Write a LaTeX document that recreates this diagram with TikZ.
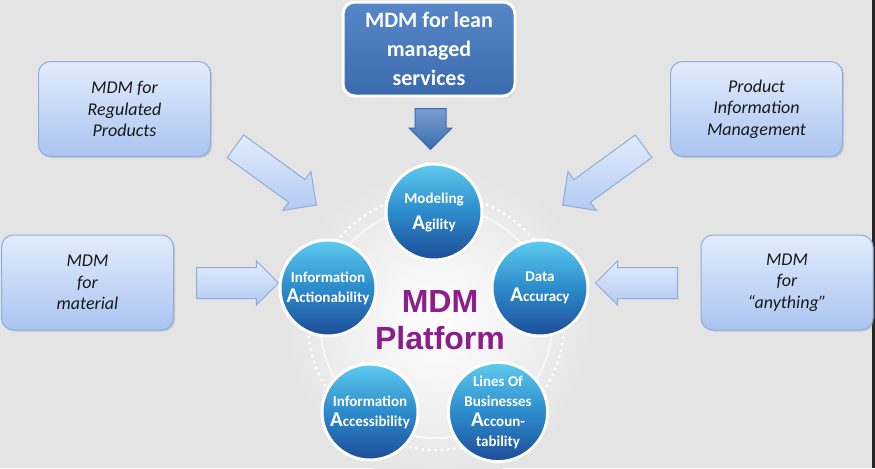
\documentclass[tikz,border=0pt]{standalone}
\usepackage{fontspec}
\setmainfont{Carlito}
\newfontfamily\platformfont{Liberation Sans}
\usetikzlibrary{shapes.arrows,shadows}
\definecolor{bgGray}{HTML}{E4E4E4}
\definecolor{boxTop}{HTML}{E3ECFD}
\definecolor{boxBot}{HTML}{AAC4F1}
\definecolor{boxLine}{HTML}{8EACDB}
\definecolor{leanTop}{HTML}{5787C7}
\definecolor{leanBot}{HTML}{3B6BAE}
\definecolor{ballTop}{HTML}{5ECBF0}
\definecolor{ballMid}{HTML}{2C8BCB}
\definecolor{ballBot}{HTML}{1E4C98}
\definecolor{mdmPurple}{HTML}{8C1D8C}

\begin{document}
\begin{tikzpicture}[
  x=0.5pt, y=-0.5pt,
  srcbox/.style={rectangle, rounded corners=6pt, draw=boxLine, line width=0.5pt,
    top color=boxTop, bottom color=boxBot, minimum width=86pt, minimum height=47.5pt,
    align=center, font=\fontsize{9}{10.75}\selectfont\itshape, text=black!90,
    drop shadow={opacity=0.25, shadow xshift=0.8pt, shadow yshift=-0.8pt}},
  leanbox/.style={rectangle, rounded corners=6pt, draw=white, line width=1.5pt,
    top color=leanTop, bottom color=leanBot, minimum width=86pt, minimum height=47pt,
    align=center, font=\fontsize{11}{14.5}\selectfont\bfseries, text=white,
    drop shadow={opacity=0.3, shadow xshift=0.8pt, shadow yshift=-0.8pt}},
  ball/.style={circle, draw=white, line width=1.5pt, minimum size=48pt, inner sep=0pt,
    top color=ballTop, bottom color=ballBot, middle color=ballMid,
    align=center, font=\fontsize{7.5}{10}\selectfont\bfseries, text=white,
    drop shadow={opacity=0.25, shadow xshift=0.6pt, shadow yshift=-0.6pt}},
  blockarr/.style={single arrow, anchor=tail, draw=boxLine, line width=0.5pt, inner sep=0pt,
    top color=boxTop, bottom color=boxBot!90!white}
]
\useasboundingbox (0,0) rectangle (875,468);
% background
\fill[bgGray] (0,0) rectangle (875,468);
\begin{scope}
  \clip (0,0) rectangle (875,468);
  \shade[inner color=white, outer color=bgGray] (438,322) circle[radius=80pt];
\end{scope}
\fill[black!85] (872,0) rectangle (875,468);
\draw[white, line width=1pt, opacity=0.6] (436,322) circle[radius=58pt];
\draw[white, line width=1.2pt, dotted] (436,322) circle[radius=64pt];

% source boxes
\node[leanbox] (lean)  at (429,49)    {MDM for lean\\managed\\services};
\node[srcbox]  (reg)   at (124.5,109) {MDM for\\Regulated\\Products};
\node[srcbox]  (pim)   at (756.5,109) {Product\\Information\\Management};
\node[srcbox]  (mat)   at (87.5,282.5) {MDM\\for\\material};
\node[srcbox]  (any)   at (787,282.5) {MDM\\for\\``anything''};

% block arrows (placed by their tails)
\node[blockarr, minimum height=20.5pt, minimum width=21pt, inner ysep=7.5pt,
  single arrow head extend=3pt, draw=leanBot, top color=leanTop!80!white, bottom color=leanBot,
  rotate=-90] (leanArr) at (430.5,108) {};
\node[blockarr, minimum height=50pt, minimum width=23pt, inner ysep=6.75pt,
  single arrow head extend=5pt, rotate=-36] (regArr) at (235,146) {};
\node[blockarr, minimum height=50pt, minimum width=23pt, inner ysep=6.75pt,
  single arrow head extend=5pt, rotate=216] (pimArr) at (644,146) {};
\node[blockarr, minimum height=41pt, minimum width=21.5pt, inner ysep=7.5pt,
  single arrow head extend=3.25pt] (matArr) at (196,283) {};
\node[blockarr, minimum height=41pt, minimum width=21.5pt, inner ysep=7.5pt,
  single arrow head extend=3.25pt, rotate=180] (anyArr) at (678,283) {};

% platform pillars
\node[ball] (agil) at (434,212) {Modeling\\[3pt]{\fontsize{10.5}{10}\selectfont A}gility};
\node[ball] (act)  at (328,288) {Information\\{\fontsize{10.5}{10}\selectfont A}ctionability};
\node[ball] (acc)  at (540,288) {Data\\{\fontsize{10.5}{10}\selectfont A}ccuracy};
\node[ball] (ass)  at (370,412) {Information\\{\fontsize{10.5}{10}\selectfont A}ccessibility};
\node[ball] (lob)  at (498,412) {Lines Of\\Businesses\\{\fontsize{10.5}{10}\selectfont A}ccoun-\\tability};

\node[font=\platformfont\bfseries\fontsize{16}{18.5}\selectfont, text=mdmPurple, align=center]
  (mdm) at (440,320) {MDM\\Platform};
\end{tikzpicture}
\end{document}
